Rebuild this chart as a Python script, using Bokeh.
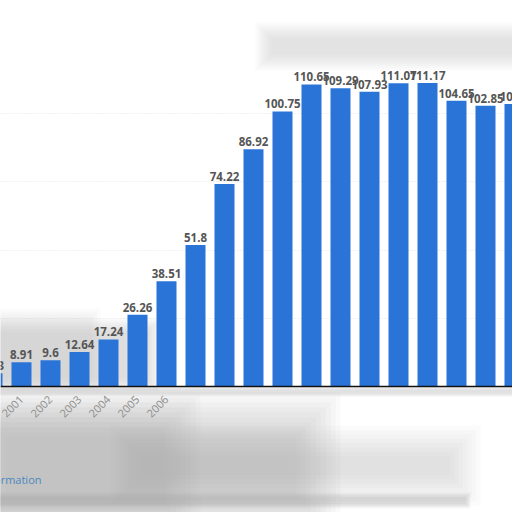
import math
from bokeh.plotting import figure
from bokeh.models import Range1d, FixedTicker, ColumnDataSource, Label, BoxAnnotation
from bokeh.core.properties import value
from bokeh.embed import file_html
from bokeh.resources import INLINE

# ---- data ----
years = [2000, 2001, 2002, 2003, 2004, 2005, 2006, 2007, 2008, 2009,
         2010, 2011, 2012, 2013, 2014, 2015, 2016, 2017, 2018]
values = [4.83, 8.91, 9.6, 12.64, 17.24, 26.26, 38.51, 51.8, 74.22, 86.92,
          100.75, 110.65, 109.29, 107.93, 111.07, 111.17, 104.65, 102.85, 103.5]
value_labels = ["4.83", "8.91", "9.6", "12.64", "17.24", "26.26", "38.51", "51.8",
                "74.22", "86.92", "100.75", "110.65", "109.29", "107.93", "111.07",
                "111.17", "104.65", "102.85", "103.5"]
shown_tick_years = [2001, 2002, 2003, 2004, 2005, 2006]
grid_values = [25, 50, 75, 100]

# ---- geometry (page pixels -> data) ----
W, H = 512, 512
PX_PER_YEAR = 29.0
PX_PER_UNIT = 2.73
BASE_Y = 386
X_LEFT = 2001 - 21 / PX_PER_YEAR
Y_TOP = BASE_Y / PX_PER_UNIT
Y_BOT = (BASE_Y - H) / PX_PER_UNIT


def px(xp):
    return X_LEFT + xp / PX_PER_YEAR


def py(yp):
    return (BASE_Y - yp) / PX_PER_UNIT


p = figure(width=W, height=H, output_backend="svg", toolbar_location=None,
           x_range=Range1d(X_LEFT, X_LEFT + W / PX_PER_YEAR),
           y_range=Range1d(Y_BOT, Y_TOP),
           min_border=0, outline_line_color=None)
p.background_fill_color = "white"
p.border_fill_color = "white"


def soft_box(l, r, t, b, color, alpha, feather=14, steps=6):
    # stacked boxes shrinking inward give a soft (blurred) edge
    for i in range(steps):
        d = feather * i / steps
        p.add_layout(BoxAnnotation(left=px(l + d), right=px(r - d),
                                   top=py(t + d), bottom=py(b - d),
                                   fill_color=color, fill_alpha=alpha / steps,
                                   line_color=None, level="underlay"))


# soft gray shading (decoration of the blurred screenshot)
soft_box(-40, 340, 392, 540, "#a8a8a8", 0.55, feather=50, steps=10)
soft_box(-40, 200, 392, 540, "#a8a8a8", 0.35, feather=40, steps=8)
soft_box(110, 480, 425, 505, "#a0a0a0", 0.35, feather=35, steps=8)
soft_box(-20, 160, 318, 392, "#b8b8b8", 0.6, feather=16, steps=8)
soft_box(-20, 100, 308, 392, "#b8b8b8", 0.25, feather=12, steps=4)
soft_box(-20, 470, 492, 508, "#a0a0a0", 0.4, feather=6, steps=4)
soft_box(255, 540, 22, 70, "#c4c4c4", 0.55, feather=18, steps=8)
soft_box(-20, 560, 386, 396, "#b0b0b0", 0.4, feather=4, steps=3)

src = ColumnDataSource(dict(x=years, top=values, lab=value_labels))
p.vbar(x="x", top="top", bottom=0, width=0.69, source=src,
       fill_color="#2a74d8", line_color=None)
p.text(x="x", y="top", text="lab", source=src, y_offset=-3,
       text_align="center", text_baseline="bottom",
       text_font=value("Open Sans"), text_font_style="bold",
       text_font_size="11.5px", text_color="#555555")

# axes
p.yaxis.visible = False
p.xaxis.fixed_location = 0
p.xaxis.ticker = FixedTicker(ticks=years)
p.xaxis.major_label_overrides = {y: (str(y) if y in shown_tick_years else "") for y in years}
p.xaxis.major_label_orientation = math.pi / 4
p.xaxis.major_label_text_color = "#8c8c8c"
p.xaxis.major_label_text_font = "Open Sans"
p.xaxis.major_label_text_font_size = "11px"
p.xaxis.major_label_standoff = 5
p.xaxis.major_tick_line_color = None
p.xaxis.minor_tick_line_color = None
p.xaxis.axis_line_color = "#111111"
p.xaxis.axis_line_width = 1.5

p.xgrid.grid_line_color = None
p.ygrid.ticker = FixedTicker(ticks=grid_values)
p.ygrid.grid_line_color = "#e2e2e2"
p.ygrid.grid_line_dash = "1 2"

p.add_layout(Label(x=px(41), y=py(479), text="Additional Information",
                   text_align="right", text_baseline="middle",
                   text_font="Open Sans", text_font_size="11px",
                   text_color="#4a88c0"))

open("out.html", "w").write(file_html(p, INLINE))
